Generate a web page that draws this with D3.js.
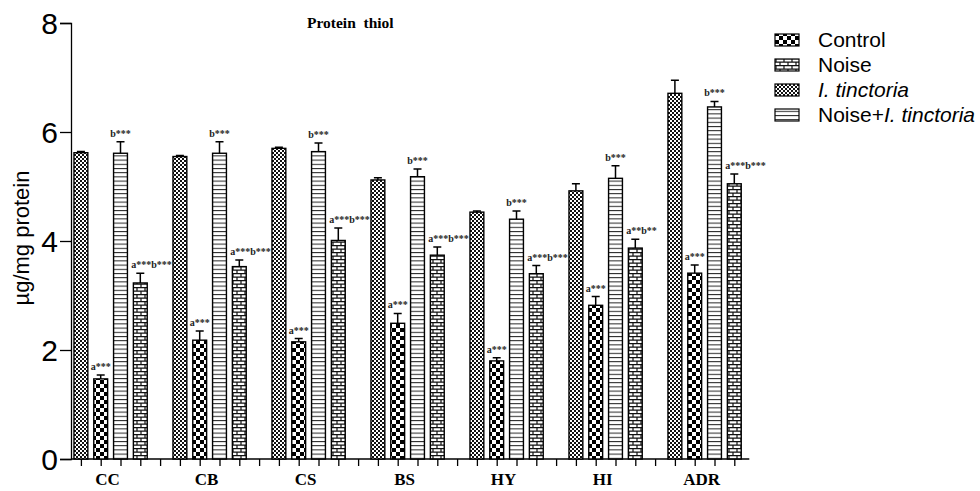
<!DOCTYPE html>
<html>
<head>
<meta charset="utf-8">
<title>Protein thiol</title>
<script src="https://d3js.org/d3.v7.min.js"></script>
<style>
  body { margin: 0; background: #fff; }
</style>
</head>
<body>
<script>

var w = 980, h = 491;

// data
var categories = ["CC", "CB", "CS", "BS", "HY", "HI", "ADR"];
var yTicks = [0, 2, 4, 6, 8];

var tinctoria    = [5.62, 5.55, 5.70, 5.12, 4.53, 4.92, 6.71];
var tinctoriaErr = [0.02, 0.02, 0.02, 0.04, 0.02, 0.13, 0.24];
var control      = [1.47, 2.18, 2.15, 2.49, 1.80, 2.82, 3.41];
var controlErr   = [0.07, 0.17, 0.06, 0.18, 0.06, 0.16, 0.15];
var noiseTinct    = [5.61, 5.61, 5.64, 5.18, 4.40, 5.15, 6.46];
var noiseTinctErr = [0.21, 0.21, 0.16, 0.14, 0.15, 0.23, 0.10];
var noise        = [3.23, 3.53, 4.01, 3.74, 3.40, 3.87, 5.05];
var noiseErr     = [0.18, 0.12, 0.23, 0.15, 0.15, 0.16, 0.18];

var controlMarks    = ["a***", "a***", "a***", "a***", "a***", "a***", "a***"];
var noiseTinctMarks = ["b***", "b***", "b***", "b***", "b***", "b***", "b***"];
var noiseMarks      = ["a***b***", "a***b***", "a***b***", "a***b***", "a***b***", "a**b**", "a***b***"];

// bars in the order they stand inside each group
var series = [
  {vals: tinctoria,  err: tinctoriaErr,  pat: "fine",  marks: null,            anchor: "middle"},
  {vals: control,    err: controlErr,    pat: "check", marks: controlMarks,    anchor: "middle"},
  {vals: noiseTinct, err: noiseTinctErr, pat: "lines", marks: noiseTinctMarks, anchor: "middle"},
  {vals: noise,      err: noiseErr,      pat: "brick", marks: noiseMarks,      anchor: "start"}
];

var legend = [
  {pat: "check", parts: [["Control", false]]},
  {pat: "brick", parts: [["Noise", false]]},
  {pat: "fine",  parts: [["I. tinctoria", true]]},
  {pat: "lines", parts: [["Noise+", false], ["I. tinctoria", true]]}
];

var svg = d3.select("body").append("svg")
  .attr("width", w)
  .attr("height", h);

// patterns
var defs = svg.append("defs");

var p = defs.append("pattern").attr("id", "fine")
  .attr("patternUnits", "userSpaceOnUse").attr("width", 4).attr("height", 4);
p.append("rect").attr("width", 4).attr("height", 4).attr("fill", "#fff");
p.append("rect").attr("width", 2).attr("height", 2).attr("fill", "#111");
p.append("rect").attr("x", 2).attr("y", 2).attr("width", 2).attr("height", 2).attr("fill", "#111");

p = defs.append("pattern").attr("id", "check")
  .attr("patternUnits", "userSpaceOnUse").attr("width", 8).attr("height", 8);
p.append("rect").attr("width", 8).attr("height", 8).attr("fill", "#fff");
p.append("rect").attr("width", 4).attr("height", 4).attr("fill", "#000");
p.append("rect").attr("x", 4).attr("y", 4).attr("width", 4).attr("height", 4).attr("fill", "#000");

p = defs.append("pattern").attr("id", "lines")
  .attr("patternUnits", "userSpaceOnUse").attr("width", 4).attr("height", 4.2);
p.append("rect").attr("width", 4).attr("height", 4.2).attr("fill", "#fff");
p.append("line").attr("x1", 0).attr("x2", 4).attr("y1", 0.5).attr("y2", 0.5)
  .attr("stroke", "#222").attr("stroke-width", 1);

p = defs.append("pattern").attr("id", "brick")
  .attr("patternUnits", "userSpaceOnUse").attr("width", 8).attr("height", 7);
p.append("rect").attr("width", 8).attr("height", 7).attr("fill", "#fff");
p.append("path")
  .attr("d", "M0,0.6H8M0,4.1H8M1,0.6V4.1M5,4.1V7")
  .attr("stroke", "#111").attr("stroke-width", 1.2).attr("fill", "none");

// scales
var y = d3.scaleLinear().domain([0, 8]).range([459, 23]);

var x0 = d3.scaleBand().domain(categories).range([71, 764]);
var x1 = d3.scaleBand().domain([0, 1, 2, 3, 4]).range([0, x0.bandwidth()])
  .paddingInner(0.3).paddingOuter(0.15);
var bw = x1.bandwidth();

function cx(cat, i) { return x0(cat) + x1(i) + bw / 2; }

// title
svg.append("text")
  .attr("x", 307).attr("y", 28)
  .attr("font-family", "Liberation Serif, Times New Roman, serif")
  .attr("font-weight", "bold").attr("font-size", 15.5)
  .attr("xml:space", "preserve")
  .text("Protein  thiol");

// y axis
var gY = svg.append("g")
  .attr("transform", "translate(71,0)")
  .call(d3.axisLeft(y).tickValues(yTicks).tickSize(11).tickPadding(2).tickFormat(d3.format("d")));
gY.select(".domain").attr("stroke", "#000").attr("stroke-width", 1.3);
gY.selectAll(".tick line").attr("stroke", "#000").attr("stroke-width", 1.3);
gY.selectAll(".tick text")
  .attr("font-family", "Liberation Sans, Arial, sans-serif")
  .attr("font-size", 30).attr("fill", "#000").attr("dy", "0.36em");

svg.append("text")
  .attr("transform", "translate(29,238) rotate(-90)")
  .attr("text-anchor", "middle")
  .attr("font-family", "Liberation Sans, Arial, sans-serif")
  .attr("font-size", 22)
  .text("µg/mg protein");

// x axis: one tick per slot, the trailing gap of the last group left out
var slots = [];
categories.forEach(function(c, ci) {
  [0, 1, 2, 3, 4].forEach(function(i) {
    if (!(ci === categories.length - 1 && i === 4)) slots.push(c + "|" + i);
  });
});
var xSlot = d3.scalePoint().domain(slots)
  .range([cx(categories[0], 0), cx(categories[categories.length - 1], 3)]);

var gX = svg.append("g")
  .attr("transform", "translate(0," + y(0) + ")")
  .call(d3.axisBottom(xSlot).tickSize(7).tickFormat(""));
gX.select(".domain").remove();
gX.selectAll(".tick line").attr("stroke", "#000").attr("stroke-width", 1.3);
gX.append("line")
  .attr("x1", 71).attr("x2", cx(categories[categories.length - 1], 3) + 15)
  .attr("stroke", "#000").attr("stroke-width", 1.3);

svg.append("g").selectAll("text")
  .data(categories)
  .enter().append("text")
  .attr("x", function(d) { return (cx(d, 0) + cx(d, 3)) / 2 - 3; })
  .attr("y", 485)
  .attr("text-anchor", "middle")
  .attr("font-family", "Liberation Serif, Times New Roman, serif")
  .attr("font-weight", "bold").attr("font-size", 17)
  .text(function(d) { return d; });

// bars, error bars and marks
series.forEach(function(s, si) {
  var g = svg.append("g");
  var rows = categories.map(function(c, ci) {
    return {cat: c, v: s.vals[ci], e: s.err[ci], m: s.marks ? s.marks[ci] : ""};
  });

  g.selectAll("rect")
    .data(rows)
    .enter().append("rect")
    .attr("x", function(d) { return cx(d.cat, si) - bw / 2; })
    .attr("y", function(d) { return y(d.v); })
    .attr("width", bw)
    .attr("height", function(d) { return y(0) - y(d.v); })
    .attr("fill", "url(#" + s.pat + ")")
    .attr("stroke", "#000").attr("stroke-width", 1.4);

  g.selectAll("path.err")
    .data(rows)
    .enter().append("path")
    .attr("class", "err")
    .attr("d", function(d) {
      var xc = cx(d.cat, si), t = y(d.v + d.e);
      return "M" + xc + "," + y(d.v) + "V" + t + "M" + (xc - 4) + "," + t + "H" + (xc + 4);
    })
    .attr("stroke", "#000").attr("stroke-width", 1.5).attr("fill", "none");

  g.selectAll("text")
    .data(rows)
    .enter().append("text")
    .attr("x", function(d) { return s.anchor === "start" ? cx(d.cat, si) - 9 : cx(d.cat, si); })
    .attr("y", function(d) { return y(d.v + d.e) - 5; })
    .attr("text-anchor", s.anchor)
    .attr("font-family", "Liberation Serif, Times New Roman, serif")
    .attr("font-weight", "bold").attr("font-size", 10)
    .attr("fill", "#222")
    .text(function(d) { return d.m; });
});

// legend
var lg = svg.append("g").selectAll("g")
  .data(legend)
  .enter().append("g")
  .attr("transform", function(d, i) { return "translate(775," + (40 + i * 25) + ")"; });

lg.append("rect")
  .attr("x", 0).attr("y", -6)
  .attr("width", 24).attr("height", 12)
  .attr("fill", function(d) { return "url(#" + d.pat + ")"; })
  .attr("stroke", "#000").attr("stroke-width", 1.2);

var lt = lg.append("text")
  .attr("x", 43).attr("y", 7)
  .attr("font-family", "Liberation Sans, Arial, sans-serif")
  .attr("font-size", 21);
lt.selectAll("tspan")
  .data(function(d) { return d.parts; })
  .enter().append("tspan")
  .attr("font-style", function(d) { return d[1] ? "italic" : "normal"; })
  .text(function(d) { return d[0]; });

</script>
</body>
</html>
